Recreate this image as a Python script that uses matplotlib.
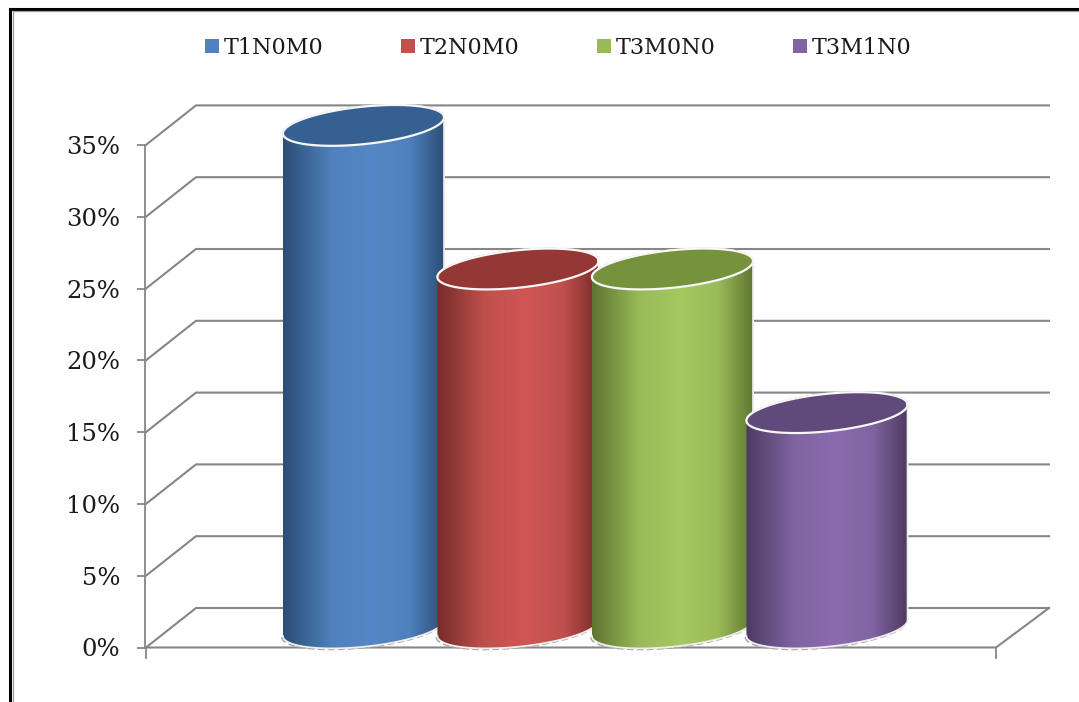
import numpy as np
import matplotlib
matplotlib.use('Agg')
import matplotlib.pyplot as plt
from matplotlib.patches import Patch, PathPatch
from matplotlib.path import Path
from matplotlib.lines import Line2D
from matplotlib.colors import LinearSegmentedColormap

stages = ['T1N0M0', 'T2N0M0', 'T3M0N0', 'T3M1N0']
percent = [35, 25, 25, 15]
y_ticks = [0, 5, 10, 15, 20, 25, 30, 35]
y_labels = ['0%', '5%', '10%', '15%', '20%', '25%', '30%', '35%']

# side, middle, top-cap colours of each cylinder
edge_colors = ['#2c4d75', '#772c2a', '#5f7530', '#4d3b62']
mid_colors = ['#4f81bd', '#c0504d', '#9bbb59', '#8064a2']
light_colors = ['#5587c6', '#cf5654', '#a5c85f', '#8b6bae']
cap_colors = ['#376092', '#953735', '#76923c', '#604a7b']

W, H = 1079, 702
LEFT = 145
PX_PER_PERCENT = 14.36
PX_PER_SLOT = 154.5
BASE_Y = 647.5
SERIF = 'DejaVu Serif'
GRID = '#868686'

fig = plt.figure(figsize=(W / 100, H / 100), dpi=100)
ax = fig.add_axes([LEFT / W, 0, 1 - LEFT / W, 1])

for side in ['top', 'right', 'bottom']:
    ax.spines[side].set_visible(False)
ax.spines['left'].set_bounds(0, 35)
ax.spines['left'].set_color(GRID)
ax.spines['left'].set_linewidth(1.3)
ax.set_xticks([])
ax.set_yticks(y_ticks)
ax.set_yticklabels(y_labels, fontfamily=SERIF, fontsize=17.5, color='#1a1a1a')
ax.tick_params(axis='y', length=6, width=1.3, color=GRID, pad=12)
ax.patch.set_alpha(0)


def px_x(px):
    return (px - 363.5) / PX_PER_SLOT


# floor depth in pixels
DEPTH_X, DEPTH_Y = 50, 39.5
front_l, front_r = px_x(LEFT + 1), px_x(996)
back_l, back_r = px_x(LEFT + 1 + DEPTH_X), px_x(1049)
dy = DEPTH_Y / PX_PER_PERCENT

for v in y_ticks:
    ax.plot([front_l, back_l, back_r], [v, v + dy, v + dy], color=GRID, lw=1.5, zorder=1,
            solid_joinstyle='miter')
ax.plot([front_l, front_r, back_r], [0, 0, dy], color=GRID, lw=1.5, zorder=1)
ax.plot([front_r, front_r], [0, -10 / PX_PER_PERCENT], color=GRID, lw=1.3, zorder=1)
ax.plot([front_l, front_l], [0, -10 / PX_PER_PERCENT], color=GRID, lw=1.3, zorder=1)

A, B, TILT = 81.0, 18.7, np.radians(6.0)
T0 = np.arctan(-(B / A) * np.tan(TILT))  # angle of the rightmost point


def ellipse(xc, yc, start=0.0, stop=2 * np.pi, n=120):
    # tilted ellipse around a centre given in data units
    t = np.linspace(start, stop, n)
    ex = A * np.cos(t) * np.cos(TILT) - B * np.sin(t) * np.sin(TILT)
    ey = A * np.cos(t) * np.sin(TILT) + B * np.sin(t) * np.cos(TILT)
    return xc + ex / PX_PER_SLOT, yc + ey / PX_PER_PERCENT


mid_depth = 19.5 / PX_PER_PERCENT
for i, v in enumerate(percent):
    z = 3 + i * 2
    base = mid_depth
    top = v + mid_depth
    bx, by = ellipse(i, base, np.pi + T0, 2 * np.pi + T0)
    tx, ty = ellipse(i, top, T0, np.pi + T0)
    body = np.column_stack([np.r_[bx, tx], np.r_[by, ty]])
    path = Path(np.r_[body, body[:1]], closed=False)

    # dashed contact shadow under the cylinder
    ax.plot(bx - 1 / PX_PER_SLOT, by - 1 / PX_PER_PERCENT, color='#a0a0a0', lw=1.2,
            ls=(0, (4, 2)), zorder=z)

    cmap = LinearSegmentedColormap.from_list(
        'side', [(0, edge_colors[i]), (0.3, mid_colors[i]), (0.55, light_colors[i]),
                 (0.78, mid_colors[i]), (1, edge_colors[i])])
    shade = np.linspace(0, 1, 256).reshape(1, -1)
    img = ax.imshow(shade, cmap=cmap, aspect='auto', zorder=z + 0.1,
                    extent=[i - 81 / PX_PER_SLOT, i + 81 / PX_PER_SLOT, base - 25 / PX_PER_PERCENT,
                            top + 25 / PX_PER_PERCENT])
    clip = PathPatch(path, transform=ax.transData, fc='none', ec='none')
    ax.add_patch(clip)
    img.set_clip_path(clip)
    ax.plot(body[:, 0], body[:, 1], color='#eeeeee', lw=1.3, zorder=z + 0.2)

    cx, cy = ellipse(i, top)
    ax.fill(cx, cy, color=cap_colors[i], zorder=z + 0.3)
    ax.plot(cx, cy, color='#f7f7f7', lw=1.6, zorder=z + 0.4)

ax.set_xlim((LEFT - 363.5) / PX_PER_SLOT, (W - 363.5) / PX_PER_SLOT)
ax.set_ylim(-(H - BASE_Y) / PX_PER_PERCENT, BASE_Y / PX_PER_PERCENT)

handles = [Patch(facecolor=c, label=s) for c, s in zip(mid_colors, stages)]
leg = fig.legend(handles=handles, ncol=4, frameon=False, loc='center',
                 bbox_to_anchor=(558 / W, 1 - 48 / H),
                 prop={'family': SERIF, 'size': 16},
                 handlelength=0.63, handleheight=0.63, handletextpad=0.2,
                 columnspacing=3.5)
for t in leg.get_texts():
    t.set_color('#1a1a1a')

# page border
for xs, ys, c, lw in [
    ([9.5, 9.5], [702, 8.5], 'black', 2.2),
    ([9.5, 1079], [8.5, 8.5], 'black', 2.2),
    ([13, 13], [702, 11], '#9a9a9a', 0.9),
    ([13, 1079], [11, 11], '#9a9a9a', 0.9),
]:
    fig.add_artist(Line2D([x / W for x in xs], [1 - y / H for y in ys], color=c, lw=lw))

fig.savefig('out.png', dpi=100)
